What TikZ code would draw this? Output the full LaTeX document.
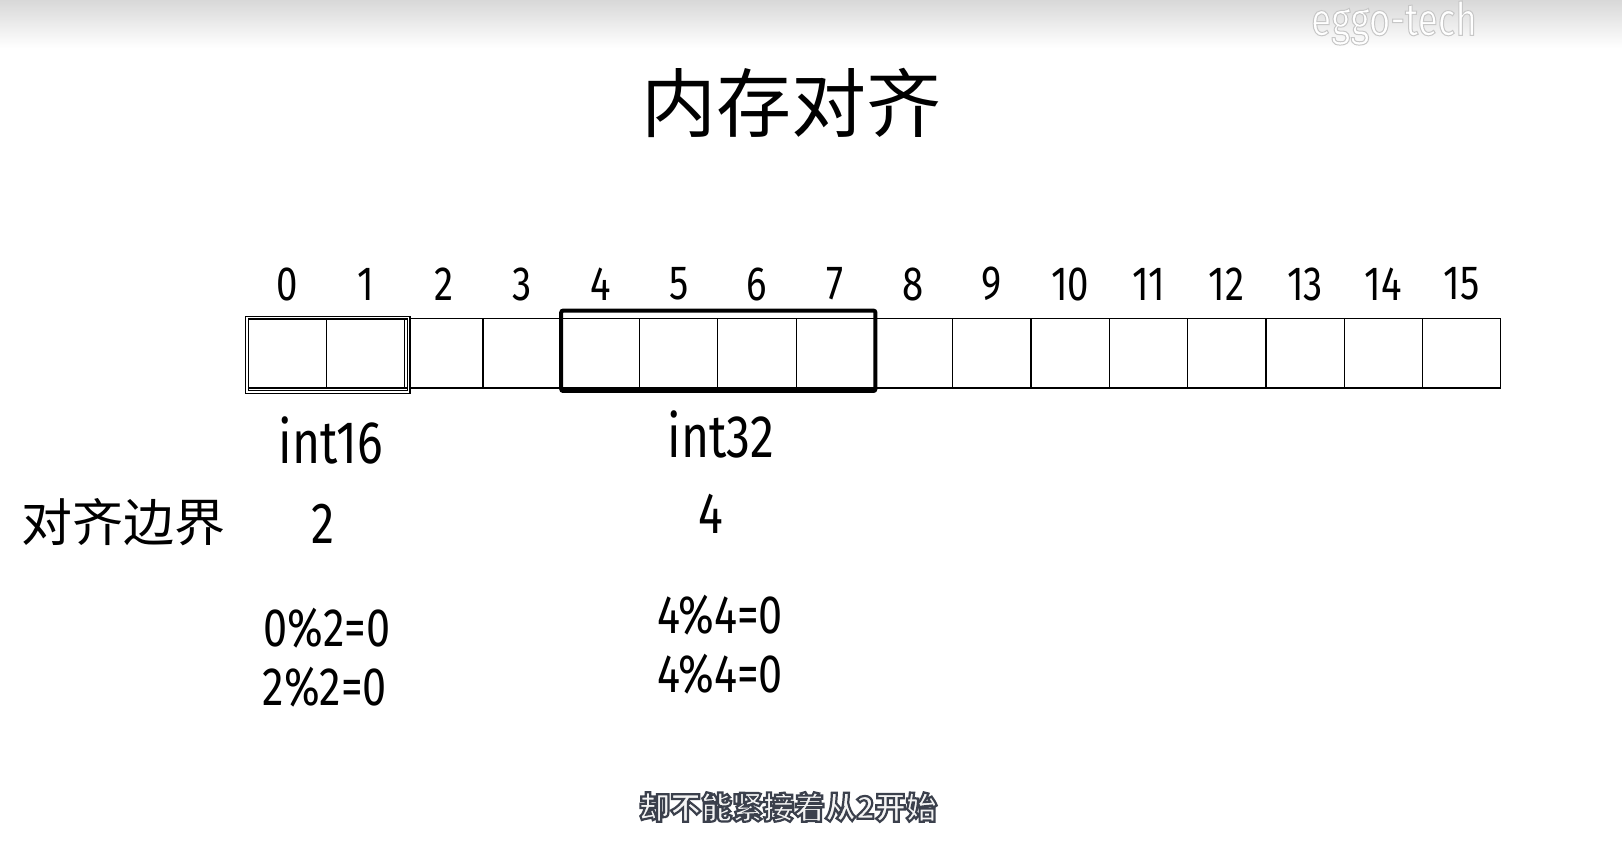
\documentclass[tikz,border=0pt]{standalone}
\usepackage{fontspec}
\usepackage{xcolor}
\usepackage{tikz}
\usetikzlibrary{positioning,calc}
\newfontfamily\hand[FakeStretch=0.8]{Fira Sans}
\newfontfamily\cjk{Noto Sans CJK SC}
\definecolor{cTop}{HTML}{D8D8D8}
\definecolor{cSub}{HTML}{F4F4F4}
% outlined text: fill + stroke in one pass {width}{stroke rgb}{text}
\newcommand\outlined[3]{\special{pdf:code 2 Tr #1 w #2 RG}#3\special{pdf:code 0 Tr}}
\tikzset{
  cell/.style={draw,line width=0.6pt,minimum width=39.15pt,minimum height=34.7pt,
               inner sep=0pt,outer sep=0pt},
  idx/.style={inner sep=0pt,font=\hand\fontsize{24}{24}\selectfont},
  tname/.style={inner sep=0pt,font=\hand\fontsize{30}{30}\selectfont},
  tsize/.style={inner sep=0pt,font=\hand\fontsize{29}{29}\selectfont},
  tcalc/.style={inner sep=0pt,font=\hand\fontsize{27}{27}\selectfont},
  grp16/.style={draw,line width=0.6pt,double=white,double distance=0.8pt},
  grp32/.style={draw,line width=2pt,rounded corners=1pt},
  ttl/.style={inner sep=0pt,font=\cjk\fontsize{37.5}{37.5}\selectfont},
  side/.style={inner sep=0pt,font=\cjk\fontsize{25.5}{25.5}\selectfont},
  subt/.style={inner sep=0pt,text=cSub,font=\cjk\bfseries\fontsize{15.5}{15.5}\selectfont},
  wmark/.style={inner sep=0pt,text=white,font=\hand\fontsize{23}{23}\selectfont},
}

\begin{document}
\begin{tikzpicture}[x=0.5pt,y=-0.5pt]
  \useasboundingbox[fill=white] (0,0) rectangle (1622,844);
  \shade[top color=cTop,bottom color=white] (0,0) rectangle (1622,48);
  \node[wmark] (wm) at (1394,23) {\outlined{0.5}{0.78 0.78 0.78}{eggo-tech}};
  \node[ttl] (title) at (791,103) {内存对齐};
  % memory cells and their offsets
  \foreach \i in {0,...,15}{
    \node[cell] (c\i) at ({287.15+78.3*\i},353.3) {};
    \node[idx] (n\i) at ({287.15+78.3*\i},284) {\i};
  }
  \draw[grp16] ($(c0.north west)+(-1,-1)$) rectangle ($(c1.south east)+(4,4)$);
  \draw[grp32] ($(c4.north west)+(0,-8)$) rectangle ($(c7.south east)+(1,3)$);
  \node[tname] (t16) at (331,440) {int16};
  \node[tname] (t32) at (721,434) {int32};
  \node[side] (bnd) at (123,522) {对齐边界};
  \node[tsize] (s16) at (323,524) {2};
  \node[tsize] (s32) at (711,514) {4};
  \node[tcalc] (m16a) at (327,628) {0\%2=0};
  \node[tcalc] (m16b) at (325,687) {2\%2=0};
  \node[tcalc] (m32a) at (720,615) {4\%4=0};
  \node[tcalc] (m32b) at (720,674) {4\%4=0};
  \node[subt] (cap) at (788,807) {\outlined{1.1}{0.23 0.25 0.30}{却不能紧接着从2开始}};
\end{tikzpicture}
\end{document}
